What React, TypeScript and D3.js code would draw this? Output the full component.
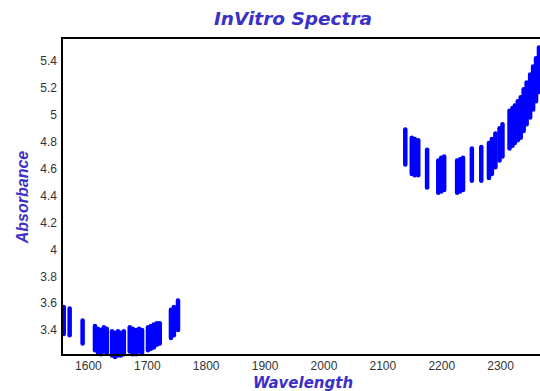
import * as d3 from "d3";
import { useEffect, useRef } from "react";

// wavelength (nm) of each replicate stack, with min / max absorbance seen there
const wavelengths = [
    1559, 1569, 1591,
    1612, 1617, 1622, 1627, 1632,
    1641, 1646, 1651, 1656, 1661,
    1671, 1676, 1682, 1687, 1692,
    1702, 1707, 1712, 1717, 1722,
    1741, 1746, 1753,
    2139, 2150, 2155, 2161, 2176,
    2195, 2200, 2205, 2227, 2232, 2237,
    2252, 2268, 2281, 2286, 2292, 2299, 2304,
    2316, 2321, 2325, 2330, 2335, 2340, 2345, 2351, 2356, 2361, 2366,
];
const absLow = [
    3.37, 3.36, 3.3,
    3.25, 3.23, 3.22, 3.24, 3.23,
    3.21, 3.2, 3.21, 3.21, 3.22,
    3.24, 3.22, 3.22, 3.24, 3.23,
    3.25, 3.26, 3.27, 3.29, 3.3,
    3.34, 3.36, 3.4,
    4.63, 4.56, 4.55, 4.55, 4.46,
    4.42, 4.43, 4.44, 4.42, 4.43, 4.44,
    4.51, 4.51, 4.53, 4.56, 4.61, 4.66, 4.69,
    4.75, 4.77, 4.79, 4.81, 4.83, 4.88, 4.93, 4.98, 5.04, 5.1, 5.17,
];
const absHigh = [
    3.57, 3.56, 3.47,
    3.43, 3.41, 3.4, 3.42, 3.41,
    3.39, 3.38, 3.39, 3.38, 3.39,
    3.42, 3.41, 3.4, 3.41, 3.4,
    3.42, 3.43, 3.44, 3.45, 3.45,
    3.55, 3.57, 3.62,
    4.89, 4.83, 4.82, 4.81, 4.74,
    4.66, 4.68, 4.69, 4.66, 4.67, 4.68,
    4.75, 4.76, 4.79, 4.82, 4.86, 4.9, 4.93,
    5.03, 5.05, 5.07, 5.1, 5.13, 5.19, 5.24, 5.3, 5.36, 5.42, 5.5,
];
const xTicks = [1600, 1700, 1800, 1900, 2000, 2100, 2200, 2300];
const yTicks = [3.4, 3.6, 3.8, 4, 4.2, 4.4, 4.6, 4.8, 5, 5.2, 5.4];

export default function App() {
    const svgRef = useRef<SVGSVGElement | null>(null);

    useEffect(() => {
        if (!svgRef.current) return;
        const svg = d3.select(svgRef.current);
        svg.selectAll("*").remove();

        const W = 540;
        const H = 391;
        const left = 62;
        const top = 38;
        const bottom = 355;
        const purple = "#3b30c8";
        const font = "Arial, 'Liberation Sans', sans-serif";
        const wide = "'DejaVu Sans', Verdana, sans-serif";

        const x = d3.scaleLinear().domain([1556, 2400]).range([left, 559]);
        const y = d3.scaleLinear().domain([3.214, 5.571]).range([bottom, top]);

        svg.attr("width", W).attr("height", H);

        svg.append("rect").attr("width", W).attr("height", H).attr("fill", "#fff");

        // stacks of replicate spectra
        svg.append("g")
            .selectAll("line")
            .data(wavelengths)
            .join("line")
            .attr("x1", (d) => x(d))
            .attr("x2", (d) => x(d))
            .attr("y1", (d, i) => y(absLow[i]))
            .attr("y2", (d, i) => y(absHigh[i]))
            .attr("stroke", "#0000ff")
            .attr("stroke-width", 4.5)
            .attr("stroke-linecap", "round");

        const xAxis = svg
            .append("g")
            .attr("transform", `translate(0,${bottom})`)
            .call(d3.axisBottom(x).tickValues(xTicks).tickSize(0).tickPadding(6).tickFormat((d) => `${d}`));
        const yAxis = svg
            .append("g")
            .attr("transform", `translate(${left},0)`)
            .call(
                d3.axisLeft(y).tickValues(yTicks).tickSize(0).tickPadding(5)
                    .tickFormat((d) => `${+(+d).toFixed(1)}`)
            );
        for (const ax of [xAxis, yAxis]) {
            ax.select(".domain").remove();
            ax.selectAll("text")
                .attr("font-family", font)
                .attr("font-size", 12)
                .attr("fill", "#333");
        }

        // frame (left, top, bottom)
        svg.append("path")
            .attr("d", `M${W + 5},${top}H${left}V${bottom}H${W + 5}`)
            .attr("fill", "none")
            .attr("stroke", "#000")
            .attr("stroke-width", 2);

        svg.append("text")
            .attr("x", 293)
            .attr("y", 25)
            .attr("text-anchor", "middle")
            .attr("font-family", wide)
            .attr("font-size", 18.5)
            .attr("font-weight", "bold")
            .attr("font-style", "italic")
            .attr("fill", purple)
            .text("InVitro Spectra");

        svg.append("text")
            .attr("transform", `translate(28,197) rotate(-90)`)
            .attr("text-anchor", "middle")
            .attr("font-family", font)
            .attr("font-size", 16)
            .attr("font-weight", "bold")
            .attr("font-style", "italic")
            .attr("fill", purple)
            .text("Absorbance");

        svg.append("text")
            .attr("x", 303)
            .attr("y", 387.5)
            .attr("text-anchor", "middle")
            .attr("font-family", wide)
            .attr("font-size", 15)
            .attr("font-weight", "bold")
            .attr("font-style", "italic")
            .attr("fill", purple)
            .text("Wavelength");
    }, []);

    return <svg ref={svgRef} style={{ position: "absolute", left: 0, top: 0 }} />;
}
